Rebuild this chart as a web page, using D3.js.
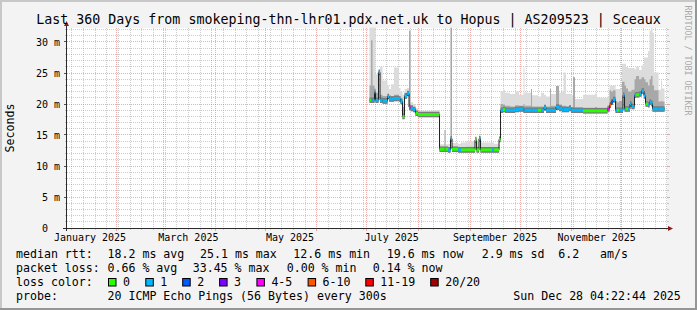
<!DOCTYPE html>
<html><head><meta charset="utf-8">
<script src="https://cdn.jsdelivr.net/npm/d3@7"></script>
<style>
html,body{margin:0;padding:0;background:#f3f3f3;}
svg{display:block;}
text{font-family:"DejaVu Sans Mono",monospace;fill:#000;}
</style></head><body>
<svg id="chart" width="697" height="310"></svg>
<script>
// ---- data (day = days since 2025-01-01 00:00 UTC) ----
const startTime = "2025-01-02T04:22:44Z";
const endTime   = "2025-12-28T04:22:44Z";
const dayOfYear = [182.7,183.6,184.5,185.7,186.3,188.1,189.0,190.5,193.5,194.4,195.6,197.4,200.4,201.3,202.5,203.7,205.2,206.4,207.3,208.8,210.3,211.8,220.2,224.7,227.7,228.3,229.8,231.3,232.2,235.8,237.6,240.6,246.0,246.9,248.4,249.3,256.2,257.4,260.4,261.3,262.8,264.0,267.0,270.0,272.4,275.1,275.7,279.6,280.2,283.8,285.6,287.4,288.6,291.0,291.6,294.6,296.4,298.2,299.1,300.6,302.4,303.6,304.8,306.0,310.8,318.0,319.2,325.5,326.7,327.6,328.8,330.3,331.2,332.4,334.2,334.8,335.7,336.6,337.8,339.0,339.9,341.7,342.6,344.4,345.9,347.4,348.3,349.8,350.7,351.6,352.5,353.4,356.1,357.6,358.2,359.7];
const medianMs  = [20.6,20.6,20.6,21.9,20.6,25.1,20.6,20.5,21.2,20.8,20.8,20.9,20.8,20.4,18.0,21.3,21.7,19.5,19.3,19.1,18.5,18.3,18.3,12.7,12.7,12.7,12.6,14.4,12.7,12.6,12.6,12.6,14.2,12.6,14.4,12.6,12.6,12.6,14.3,19.0,19.1,19.0,19.0,19.1,19.2,19.0,19.0,19.0,19.0,19.0,19.0,19.4,19.0,19.0,19.0,19.5,19.3,19.1,19.1,19.1,19.3,19.0,19.0,19.0,18.9,18.9,18.9,19.2,19.8,20.3,20.7,19.0,19.0,19.0,19.0,21.4,19.2,19.2,19.2,20.0,19.6,21.4,21.5,21.6,22.1,21.3,20.0,19.9,20.3,20.1,19.2,19.2,19.2,19.2,19.2,19.2];
const lossLevel = [0,1,1,1,1,1,1,1,1,1,1,1,1,1,0,1,1,4,1,1,0,0,0,0,0,0,1,1,0,1,0,0,0,0,1,0,1,0,0,1,0,1,1,1,1,1,1,1,1,0,1,1,1,1,1,1,1,1,1,1,1,1,1,1,0,0,0,4,5,2,1,1,0,1,1,1,1,0,1,1,1,1,0,1,1,1,0,1,1,1,1,1,1,1,1,1];
const smokeMid  = [23.0,30.3,23.0,22.5,21.8,25.1,21.5,21.3,21.6,21.4,21.3,21.5,21.3,21.0,19.5,21.8,22.0,31.8,19.8,19.5,18.9,18.7,18.6,13.1,15.8,13.1,13.0,32.3,13.1,13.0,13.0,13.1,14.6,13.1,14.6,13.0,13.0,13.0,14.5,20.0,19.9,19.7,19.6,19.8,19.7,20.0,19.7,22.4,19.6,19.6,19.6,19.9,19.6,22.4,19.7,22.9,19.9,19.7,19.7,19.6,19.8,19.5,24.3,19.4,19.4,19.5,19.4,19.8,22.2,22.0,22.2,20.5,20.3,20.5,23.6,23.6,23.0,22.5,22.0,22.0,22.3,24.0,24.5,24.0,24.3,24.0,23.5,23.0,24.0,24.5,23.0,22.2,20.4,20.5,20.4,20.4];
const smokeHi   = [32.3,32.3,32.3,32.3,24.8,25.5,26.0,23.8,23.0,22.4,23.2,25.9,22.6,22.0,21.5,22.4,22.6,31.8,20.3,20.0,19.3,18.9,19.0,13.5,15.8,13.5,13.6,32.3,13.7,13.6,13.8,14.0,14.8,13.9,15.0,13.8,13.8,13.6,14.5,22.1,22.3,21.8,21.6,22.0,21.5,25.9,21.8,22.4,21.4,21.2,21.8,21.5,21.2,22.4,21.6,22.9,21.8,22.0,25.1,21.6,21.6,21.4,24.3,20.8,21.5,21.7,21.0,21.2,23.0,23.0,23.0,22.4,22.4,22.4,26.5,26.5,26.5,26.0,25.8,25.8,25.8,25.6,26.0,25.5,26.2,27.5,27.5,28.5,31.8,32.3,31.5,25.1,22.3,23.8,22.5,22.5];

const yTicks = [0,5,10,15,20,25,30];
const yTickLabels = ["0  ","5 m","10 m","15 m","20 m","25 m","30 m"];
const monthLabelStarts = ["2025-01-01","2025-03-01","2025-05-01","2025-07-01","2025-09-01","2025-11-01"];
const monthLabels = ["January 2025","March 2025","May 2025","July 2025","September 2025","November 2025"];
const lossNames  = ["0","1","2","3","4-5","6-10","11-19","20/20"];
const lossColors = ["#26ff00","#00b8ff","#0059ff","#7e00ff","#ff00ff","#ff5500","#ff0000","#a00000"];

const titleText = "Last 360 Days from smokeping-thn-lhr01.pdx.net.uk to Hopus | AS209523 | Sceaux";
const yAxisTitle = "Seconds";
const watermark = "RRDTOOL / TOBI OETIKER";
const rttRow  = ["median rtt:","18.2 ms avg","25.1 ms max","12.6 ms min","19.6 ms now","2.9 ms sd","6.2","am/s"];
const lossRow = ["packet loss:","0.66 % avg","33.45 % max","0.00 % min","0.14 % now"];
const lossColorLabel = "loss color:";
const probeRow = ["probe:","20 ICMP Echo Pings (56 Bytes) every 300s","Sun Dec 28 04:22:44 2025"];

// ---- layout ----
const W = 697, H = 310;
const X0 = 67, X1 = 667, Y0 = 228, Y1 = 28;
const svg = d3.select("#chart");
const t0 = new Date(startTime), t1 = new Date(endTime);
const x = d3.scaleUtc().domain([t0, t1]).range([X0, X1]);
const y = d3.scaleLinear().domain([0, 200 / 6.2]).range([Y0, Y1]);
const base = Date.UTC(2025, 0, 1);
const rows = dayOfYear.map((d, i) => ({
  t: new Date(base + d * 864e5), med: medianMs[i], loss: lossLevel[i], mid: smokeMid[i], hi: smokeHi[i]
}));
const crisp = v => Math.floor(v) + 0.5;

// background & shading
svg.append("rect").attr("width", W).attr("height", H).attr("fill", "#f3f3f3");
svg.append("rect").attr("x", 0).attr("y", 0).attr("width", W).attr("height", 2).attr("fill", "#c8c8c8");
svg.append("rect").attr("x", 0).attr("y", 0).attr("width", 2).attr("height", H).attr("fill", "#c8c8c8");
svg.append("rect").attr("x", 0).attr("y", H - 2).attr("width", W).attr("height", 2).attr("fill", "#969696");
svg.append("rect").attr("x", W - 2).attr("y", 0).attr("width", 2).attr("height", H).attr("fill", "#969696");

// canvas
svg.append("rect").attr("x", X0).attr("y", Y1).attr("width", X1 - X0).attr("height", Y0 - Y1).attr("fill", "#fff");

// grid
const grid = svg.append("g");
const minorColor = "rgba(143,143,143,0.46)", majorColor = "rgba(222,72,72,0.46)";
d3.range(1, 33).filter(v => v % 5 !== 0 && y(v) >= Y1).forEach(v => {
  grid.append("line").attr("x1", X0).attr("x2", X1).attr("y1", crisp(y(v))).attr("y2", crisp(y(v)))
    .attr("stroke", minorColor).attr("stroke-dasharray", "1,1");
  grid.append("line").attr("x1", X0 - 2).attr("x2", X0).attr("y1", crisp(y(v))).attr("y2", crisp(y(v))).attr("stroke", minorColor);
  grid.append("line").attr("x1", X1).attr("x2", X1 + 2).attr("y1", crisp(y(v))).attr("y2", crisp(y(v))).attr("stroke", minorColor);
});
const months = d3.utcMonth.range(t0, t1).map(m => +m);
d3.utcSunday.range(t0, t1).filter(s => !months.includes(+s)).forEach(s => {
  const xx = crisp(x(s));
  grid.append("line").attr("x1", xx).attr("x2", xx).attr("y1", Y1).attr("y2", Y0)
    .attr("stroke", minorColor).attr("stroke-dasharray", "1,1");
  grid.append("line").attr("x1", xx).attr("x2", xx).attr("y1", Y0).attr("y2", Y0 + 2).attr("stroke", minorColor);
});
d3.utcMonth.range(t0, t1).forEach(m => {
  const xx = crisp(x(m));
  grid.append("line").attr("x1", xx).attr("x2", xx).attr("y1", Y1).attr("y2", Y0)
    .attr("stroke", majorColor).attr("stroke-dasharray", "1,1");
  grid.append("line").attr("x1", xx).attr("x2", xx).attr("y1", Y0).attr("y2", Y0 + 3).attr("stroke", majorColor);
});
yTicks.forEach(v => {
  if (v === 0) return;
  grid.append("line").attr("x1", X0).attr("x2", X1).attr("y1", crisp(y(v))).attr("y2", crisp(y(v)))
    .attr("stroke", majorColor).attr("stroke-dasharray", "1,1");
  grid.append("line").attr("x1", X0 - 3).attr("x2", X0).attr("y1", crisp(y(v))).attr("y2", crisp(y(v))).attr("stroke", "#555");
  grid.append("line").attr("x1", X1).attr("x2", X1 + 3).attr("y1", crisp(y(v))).attr("y2", crisp(y(v))).attr("stroke", majorColor);
});

// smoke
const plot = svg.append("g");
const areaHi = d3.area().curve(d3.curveStepAfter).x(d => x(d.t)).y0(d => y(d.med - 0.45)).y1(d => y(d.hi));
const areaMid = d3.area().curve(d3.curveStepAfter).x(d => x(d.t)).y0(d => y(d.med - 0.4)).y1(d => y(d.mid));
const areaCore = d3.area().curve(d3.curveStepAfter).x(d => x(d.t)).y0(d => y(d.med - 0.45)).y1(d => y(d.med + 0.45));
plot.append("path").attr("d", areaHi(rows)).attr("fill", "#dcdcdc");
plot.append("path").attr("d", areaMid(rows)).attr("fill", "#a8a8a8");
plot.append("path").attr("d", areaCore(rows)).attr("fill", "#7a7a7a");
const medLine = d3.line().curve(d3.curveStepAfter).x(d => x(d.t)).y(d => y(d.med));
plot.append("path").attr("d", medLine(rows)).attr("fill", "none").attr("stroke", "#202020").attr("stroke-width", 1);
const sw = 0.24;
rows.slice(0, -1).forEach((d, i) => {
  const n = rows[i + 1];
  plot.append("rect").attr("x", x(d.t)).attr("width", Math.max(0.8, x(n.t) - x(d.t)))
    .attr("y", y(d.med + sw)).attr("height", y(d.med - sw) - y(d.med + sw))
    .attr("fill", lossColors[d.loss]);
});

// axes
const ax = svg.append("g");
ax.append("line").attr("x1", X0 - 4).attr("x2", X1 + 2).attr("y1", Y0 + 0.5).attr("y2", Y0 + 0.5).attr("stroke", "#2a2a2a");
ax.append("line").attr("x1", X0 - 0.5).attr("x2", X0 - 0.5).attr("y1", Y1 - 3).attr("y2", Y0 + 3).attr("stroke", "#2a2a2a");
ax.append("path").attr("d", `M${X1 + 1},${Y0 - 2} L${X1 + 6},${Y0 + 0.5} L${X1 + 1},${Y0 + 3} Z`).attr("fill", "#8b1a1a");
ax.append("path").attr("d", `M${X0 - 3},${Y1 - 2} L${X0 - 0.5},${Y1 - 7} L${X0 + 2},${Y1 - 2} Z`).attr("fill", "#8b1a1a");

// tick labels
yTicks.forEach((v, i) => {
  svg.append("text").attr("x", 60).attr("y", y(v) + 3.7).attr("text-anchor", "end")
    .style("font-size", "10px").style("white-space", "pre").text(yTickLabels[i]);
});
monthLabelStarts.forEach((m, i) => {
  const c = d3.utcDay.offset(new Date(m + "T00:00:00Z"), 15);
  svg.append("text").attr("x", x(c)).attr("y", 241).attr("text-anchor", "middle")
    .style("font-size", "10px").text(monthLabels[i]);
});

// titles
svg.append("text").attr("x", W / 2).attr("y", 24).attr("text-anchor", "middle").style("font-size", "13.3px").text(titleText);
svg.append("text").attr("transform", `translate(14,${(Y0 + Y1) / 2}) rotate(-90)`).attr("text-anchor", "middle")
  .style("font-size", "11.6px").text(yAxisTitle);
svg.append("text").attr("transform", "translate(685,5.5) rotate(90)").style("font-size", "8.3px")
  .style("fill", "#aaaaaa").text(watermark);

// legend
const lf = "11.6px";
const rttX = [16, 107.5, 200, 293.3, 386.7, 481.7, 558.3, 600];
rttRow.forEach((s, i) => svg.append("text").attr("x", rttX[i]).attr("y", 258.3).style("font-size", lf).text(s));
const lossX = [16, 107.5, 192.7, 286.7, 372.7];
lossRow.forEach((s, i) => svg.append("text").attr("x", lossX[i]).attr("y", 272.3).style("font-size", lf).text(s));
svg.append("text").attr("x", 16).attr("y", 286.3).style("font-size", lf).text(lossColorLabel);
const boxX = [108, 145.3, 182.2, 219.1, 256.4, 307.6, 365.3, 430.2];
lossNames.forEach((nm, i) => {
  svg.append("rect").attr("x", boxX[i] + 0.5).attr("y", 278.5).attr("width", 7.5).attr("height", 7.5)
    .attr("fill", lossColors[i]).attr("stroke", "#000").attr("stroke-width", 1);
  svg.append("text").attr("x", boxX[i] + 15).attr("y", 286.3).style("font-size", lf).text(nm);
});
const probeX = [16, 107.5, 513.3];
probeRow.forEach((s, i) => svg.append("text").attr("x", probeX[i]).attr("y", 300.3).style("font-size", lf).text(s));
</script>
</body></html>
